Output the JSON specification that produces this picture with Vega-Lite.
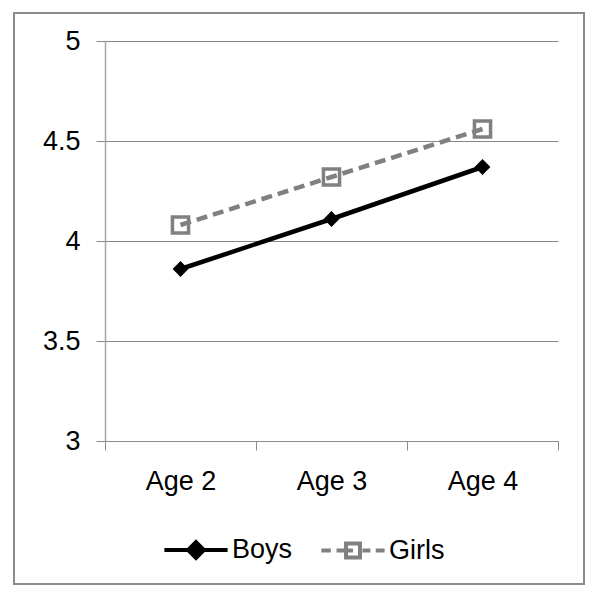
{
  "$schema": "https://vega.github.io/schema/vega-lite/v6.json",
  "width": 570,
  "height": 571,
  "autosize": {"type": "none"},
  "padding": {"left": 14, "top": 13, "right": 16, "bottom": 15},
  "background": "white",
  "config": {
    "view": {"stroke": "#8c8c8c", "strokeWidth": 2},
    "font": "Liberation Sans",
    "axis": {"labelFont": "Liberation Sans", "labelColor": "#000000", "labelFontSize": 27, "title": null},
    "legend": {
      "orient": "none",
      "direction": "horizontal",
      "legendX": 148,
      "legendY": 503,
      "padding": 0,
      "symbolSize": 4000,
      "symbolStrokeWidth": 4,
      "symbolOpacity": 1,
      "labelFontSize": 27,
      "labelFont": "Liberation Sans",
      "labelColor": "#000000",
      "labelOffset": 2,
      "columnPadding": 20
    }
  },
  "data": {
    "values": [
      {"age": "Age 2", "series": "Boys", "value": 3.86},
      {"age": "Age 3", "series": "Boys", "value": 4.11},
      {"age": "Age 4", "series": "Boys", "value": 4.37},
      {"age": "Age 2", "series": "Girls", "value": 4.08},
      {"age": "Age 3", "series": "Girls", "value": 4.32},
      {"age": "Age 4", "series": "Girls", "value": 4.56}
    ]
  },
  "encoding": {
    "x": {
      "field": "age",
      "type": "nominal",
      "sort": null,
      "scale": {"type": "band", "range": [91, 544], "paddingInner": 0, "paddingOuter": 0},
      "axis": {
        "offset": -143,
        "labelAngle": 0,
        "tickBand": "extent",
        "tickSize": 9,
        "tickColor": "#8c8c8c",
        "domainColor": "#8c8c8c",
        "domainWidth": 1,
        "labelPadding": 18,
        "grid": false
      }
    },
    "y": {
      "field": "value",
      "type": "quantitative",
      "scale": {"domain": [3, 5], "range": [428, 28], "nice": false, "zero": false},
      "axis": {
        "offset": -91,
        "values": [3, 3.5, 4, 4.5, 5],
        "format": "~g",
        "grid": true,
        "gridColor": "#868686",
        "gridWidth": 1,
        "tickSize": 9,
        "tickColor": "#868686",
        "domainColor": "#a6a6a6",
        "domainWidth": 1.5,
        "labelPadding": 16,
        "labelFlush": false,
        "labelOverlap": false
      }
    }
  },
  "layer": [
    {
      "transform": [{"filter": "datum.series === 'Boys'"}],
      "mark": {"type": "line", "strokeWidth": 4.5, "color": "#000000"}
    },
    {
      "transform": [{"filter": "datum.series === 'Girls'"}],
      "mark": {"type": "line", "strokeWidth": 4.5, "color": "#808080", "strokeDash": [11, 6]}
    },
    {
      "transform": [{"filter": "datum.series === 'Boys'"}],
      "mark": {"type": "point", "shape": "diamond", "filled": true, "color": "#000000", "size": 250, "opacity": 1, "strokeWidth": 1}
    },
    {
      "transform": [{"filter": "datum.series === 'Girls'"}],
      "mark": {"type": "point", "shape": "square", "filled": false, "color": "#808080", "size": 260, "opacity": 1, "strokeWidth": 3.5}
    },
    {
      "mark": {"type": "point", "opacity": 0, "size": 4000},
      "encoding": {
        "shape": {
          "field": "series",
          "type": "nominal",
          "title": null,
          "scale": {
            "domain": ["Boys", "Girls"],
            "range": [
              "M-1,0H1M0,-0.25L0.25,0L0,0.25L-0.25,0Z",
              "M-1,0H-0.7M-0.52,0H-0.22M-0.22,0H0M0.3,0H0.55M0.72,0H1M-0.22,-0.22H0.22V0.22H-0.22Z"
            ]
          }
        },
        "stroke": {"field": "series", "type": "nominal", "title": null, "scale": {"domain": ["Boys", "Girls"], "range": ["#000000", "#808080"]}},
        "fill": {"field": "series", "type": "nominal", "title": null, "scale": {"domain": ["Boys", "Girls"], "range": ["#000000", "transparent"]}}
      }
    }
  ]
}
